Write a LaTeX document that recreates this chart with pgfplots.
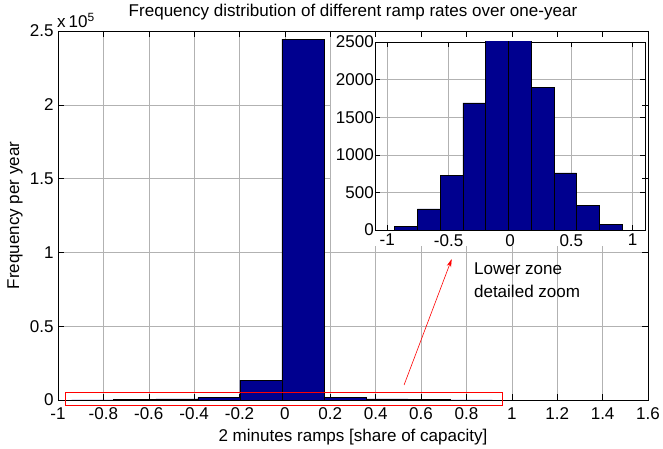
\documentclass[border=0pt]{standalone}
\usepackage{fontspec}
\setmainfont{Liberation Sans}
\usepackage{pgfplots}
\usepackage{pgfplotstable}
\pgfplotsset{compat=1.18}
\usetikzlibrary{arrows.meta}
\definecolor{mblue}{RGB}{0,0,143}
\pgfplotsset{
  layers/mylayers/.define layer set={axis background,axis grid,whitebg,axis ticks,axis lines,axis tick labels,main,axis descriptions,axis foreground}{/pgfplots/layers/standard},
}
\pgfplotstableread{
x y
-0.940 44
-0.755 280
-0.569 725
-0.384 1690
-0.198 13500
-0.013 244500
0.172 1900
0.358 760
0.543 325
0.729 72
0.914 72
}\hist

\begin{document}
\begin{tikzpicture}[font=\fontsize{17.1}{20.5}\selectfont]
\begin{axis}[
  set layers=mylayers,
  at={(0,0)}, anchor=south west,
  scale only axis, width=590bp, height=369bp,
  xmin=-1, xmax=1.6, ymin=0, ymax=250000,
  xtick={-1,-0.8,-0.6,-0.4,-0.2,0,0.2,0.4,0.6,0.8,1,1.2,1.4,1.6},
  ytick={0,50000,100000,150000,200000,250000},
  scaled y ticks=base 10:-5,
  ytick scale label code/.code={x\,10\textsuperscript{5}},
  every y tick scale label/.style={at={(axis description cs:0,1)}, anchor=south west, inner sep=0pt, yshift=3bp},
  grid=major, grid style={gray!60, line width=0.5bp},
  tick align=inside, major tick length=6bp,
  tick style={black, line width=0.5bp},
  axis line style={line width=0.8bp},
  /pgf/number format/assume math mode=true,
  xticklabel style={yshift=-4.5bp},
  yticklabel style={xshift=-1bp},
  every axis title shift=0pt,
  title={Frequency distribution of different ramp rates over one-year},
  title style={at={(axis description cs:0.5,1.0515)}, anchor=center, inner sep=0pt},
  xlabel={2 minutes ramps [share of capacity]},
  xlabel style={at={(axis description cs:0.5,-0.1003)}, anchor=center, inner sep=0pt},
  ylabel={Frequency per year},
  ylabel style={at={(axis description cs:-0.073,0.5)}, anchor=center, inner sep=0pt},
  clip=false,
]
\begin{pgfonlayer}{whitebg}
\fill[white] (axis cs:0.203,104000) rectangle (axis cs:1.6,250000);
\end{pgfonlayer}
\addplot[ybar interval, fill=mblue, draw=black, line width=0.5bp] table {\hist};
\draw[red, line width=0.6bp] (axis cs:-0.97,-3400) rectangle (axis cs:0.96,5200);
\draw[red, line width=0.6bp, -{Stealth[length=8bp,width=4.5bp]}] (axis cs:0.525,10160) -- (axis cs:0.735,95530);
\node[anchor=west, align=left, inner sep=0pt, font=\fontsize{17.1}{23}\selectfont] at (axis cs:0.8326,81300) {Lower zone\\detailed zoom};
\end{axis}
\begin{axis}[
  at={(317bp,170bp)}, anchor=south west,
  scale only axis, width=270bp, height=188bp,
  xmin=-1.1, xmax=1.1, ymin=0, ymax=2500,
  xtick={-1,-0.5,0,0.5,1},
  ytick={0,500,1000,1500,2000,2500},
  grid=major, grid style={gray!60, line width=0.5bp},
  tick align=inside, major tick length=5bp,
  tick style={black, line width=0.5bp},
  axis line style={line width=0.8bp},
  /pgf/number format/assume math mode=true,
  /pgf/number format/1000 sep={},
  xticklabel style={inner sep=1pt, yshift=-3bp},
  yticklabel style={inner sep=1pt},
]
\addplot[ybar interval, fill=mblue, draw=black, line width=0.5bp, y filter/.expression={min(y,2600)}] table {\hist};
\end{axis}
\pgfresetboundingbox
\path[use as bounding box] (-58bp,-49bp) rectangle (605bp,400bp);
\end{tikzpicture}
\end{document}
